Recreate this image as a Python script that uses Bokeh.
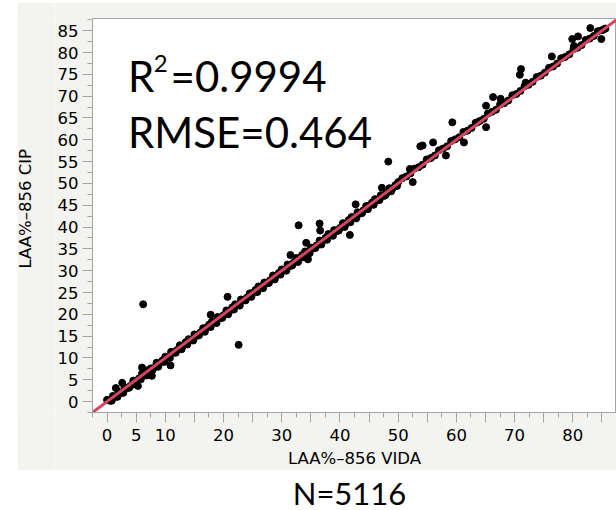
from bokeh.plotting import figure
from bokeh.models import Range1d, FixedTicker, Label, Spacer
from bokeh.layouts import column, row
from bokeh.embed import file_html
from bokeh.resources import INLINE

# ---------------- data ----------------
x_ticks = [0, 5, 10, 15, 20, 25, 30, 35, 40, 45, 50, 55, 60, 65, 70, 75, 80, 85]
x_tick_labels = {0: "0", 5: "5", 10: "10", 15: "", 20: "20", 25: "", 30: "30", 35: "",
                 40: "40", 45: "", 50: "50", 55: "", 60: "60", 65: "", 70: "70",
                 75: "", 80: "80", 85: ""}
y_ticks = [0, 5, 10, 15, 20, 25, 30, 35, 40, 45, 50, 55, 60, 65, 70, 75, 80, 85]
minor_ticks = [-2.5, 2.5, 7.5, 12.5, 17.5, 22.5, 27.5, 32.5, 37.5, 42.5, 47.5, 52.5,
               57.5, 62.5, 67.5, 72.5, 77.5, 82.5, 87.5]

# dense band of points along the diagonal (VIDA, CIP)
band_a_x = [0.0, 0.5, 1.0, 1.5, 2.0, 2.5, 3.0, 3.5, 4.0, 4.5, 5.0, 5.5, 6.0, 6.5, 7.0, 7.5,
            8.0, 8.5, 9.0, 9.5, 10.0, 10.5, 11.0, 11.5, 12.0, 12.5, 13.0, 13.5, 14.0, 14.5,
            15.0, 15.5, 16.0, 16.5, 17.0, 17.5, 18.0, 18.5, 19.0, 19.5, 20.0, 20.5, 21.0,
            21.5, 22.0, 22.5, 23.0, 23.5, 24.0, 24.5, 25.0, 25.5, 26.0, 26.5, 27.0, 27.5,
            28.0, 28.5, 29.0, 29.5, 30.0, 30.5, 31.0, 31.5, 32.0, 32.5, 33.0, 33.5, 34.0,
            34.5, 35.0, 35.5, 36.0, 36.5, 37.0, 37.5, 38.0, 38.5, 39.0, 39.5, 40.0, 40.5,
            41.0, 41.5, 42.0, 42.5, 43.0, 43.5, 44.0, 44.5, 45.0, 45.5, 46.0, 46.5, 47.0,
            47.5, 48.0, 48.5, 49.0, 49.5, 50.0]
band_a_y = [0.4, 0.2, 1.3, 1.1, 2.2, 2.0, 3.3, 3.1, 3.6, 4.8, 4.7, 5.3, 6.4, 6.1, 7.2, 7.6,
            7.7, 8.9, 8.8, 9.4, 10.3, 10.1, 11.4, 11.2, 11.8, 12.9, 12.7, 13.6, 14.3, 14.2,
            15.4, 15.1, 15.8, 16.8, 16.9, 17.6, 18.3, 18.2, 19.4, 19.1, 19.8, 20.9, 20.7,
            21.6, 22.3, 22.1, 23.4, 23.2, 23.8, 24.8, 24.9, 25.6, 26.4, 26.2, 27.3, 27.1,
            27.8, 28.9, 28.8, 29.5, 30.3, 30.2, 31.4, 31.1, 31.8, 32.9, 32.7, 33.6, 34.4,
            34.1, 35.3, 35.2, 35.8, 36.9, 36.8, 37.5, 38.4, 38.2, 39.3, 39.1, 39.8, 40.9,
            40.7, 41.6, 42.3, 42.2, 43.4, 43.1, 43.8, 44.8, 44.9, 45.6, 46.4, 46.2, 47.3,
            47.1, 47.8, 48.9, 48.8, 49.6, 50.3]

band_b_x = [0.8, 1.8, 2.8, 3.8, 4.8, 5.8, 6.8, 7.8, 8.8, 9.8, 10.8, 11.8, 12.8, 13.8, 14.8,
            15.8, 16.8, 17.8, 18.8, 19.8, 20.8, 21.8, 22.8, 23.8, 24.8, 25.8, 26.8, 27.8,
            28.8, 29.8, 30.8, 31.8, 32.8, 33.8, 34.8, 35.8, 36.8, 37.8, 38.8, 39.8, 40.8,
            41.8, 42.8, 43.8, 44.8, 45.8, 46.8, 47.8, 48.8, 49.8]
band_b_y = [0.2, 1.1, 2.0, 3.2, 4.0, 5.1, 6.0, 7.2, 8.0, 9.1, 10.0, 11.2, 12.0, 13.1, 14.0,
            15.2, 16.0, 17.1, 18.0, 19.2, 20.0, 21.1, 22.0, 23.2, 24.0, 25.1, 26.0, 27.2,
            28.0, 29.1, 30.0, 31.2, 32.0, 33.1, 34.0, 35.2, 36.0, 37.1, 38.0, 39.2, 40.0,
            41.1, 42.0, 43.2, 44.1, 45.1, 46.2, 47.3, 48.2, 49.4]

band_c_x = [50.7, 51.4, 52.1, 52.8, 53.5, 54.2, 54.9, 55.6, 56.3, 57.0, 57.7, 58.4, 59.1,
            59.8, 60.5, 61.2, 61.9, 62.6, 63.3, 64.0, 64.7, 65.4, 66.1, 66.8, 67.5, 68.2,
            68.9, 69.6, 70.3, 71.0, 71.7, 72.4, 73.1, 73.8, 74.5, 75.2, 75.9, 76.6, 77.3,
            78.0, 78.7, 79.4, 80.1, 80.8, 81.5, 82.2, 82.9, 83.6, 84.3, 85.0, 85.6]
band_c_y = [51.2, 51.6, 52.3, 53.4, 53.7, 54.3, 55.5, 55.8, 56.4, 57.6, 58.0, 58.5, 59.7,
            60.1, 60.6, 61.8, 62.1, 62.7, 63.9, 64.3, 64.8, 66.0, 66.4, 66.9, 68.1, 68.4,
            69.0, 70.2, 70.5, 71.2, 72.3, 72.6, 73.3, 74.4, 74.7, 75.4, 76.5, 76.8, 77.5,
            78.7, 79.0, 79.6, 80.8, 81.1, 81.7, 82.9, 83.2, 83.8, 84.9, 85.1, 85.5]

# scattered points off the band
out_x = [6.2, 22.6, 10.9, 7.7, 5.3, 1.5, 2.6, 6.0, 17.8, 20.7, 31.5, 32.9, 36.5, 36.6,
         41.7, 42.7, 34.5, 34.2, 47.2, 48.3, 53.8, 56.0, 59.3, 52.0, 52.5, 61.3, 58.2,
         71.1, 70.9, 76.4, 83.0, 80.9, 79.9, 84.9, 85.3, 66.3, 67.6, 65.1, 65.1, 63.6,
         71.9, 54.2, 80.2]
out_y = [22.3, 13.0, 8.3, 5.9, 3.6, 3.1, 4.3, 7.8, 19.9, 24.0, 33.6, 40.4, 40.8, 39.2,
         38.2, 45.2, 32.6, 36.4, 49.0, 55.0, 58.5, 59.4, 64.0, 53.3, 50.3, 59.4, 56.4,
         76.2, 74.9, 79.1, 85.6, 83.7, 83.1, 83.1, 85.3, 69.8, 69.4, 67.8, 62.9, 64.0,
         73.1, 58.7, 81.5]

fit_x = [-2.5, 90.0]
fit_y = [-2.5, 90.0]

x_title = "LAA%\u2013856 VIDA"
y_title = "LAA%\u2013856 CIP"
r2_text = "=0.9994"
rmse_text = "RMSE=0.464"
n_text = "N=5116"

# ---------------- styles ----------------
PANEL = "#f3f3ef"
AXIS_GRAY = "#a4a4a4"
RED = "#d4455f"
TICK_FONT = "DejaVu Sans"
BIG = "Lato"

p = figure(width=562, height=468, output_backend="svg", toolbar_location=None,
           x_range=Range1d(-2.5, 87.5), y_range=Range1d(-2.5, 87.8),
           min_border_left=38, min_border_right=0, min_border_top=16, min_border_bottom=57)
p.border_fill_color = PANEL
p.background_fill_color = "white"
p.outline_line_color = AXIS_GRAY
p.outline_line_width = 1
p.xgrid.visible = False
p.ygrid.visible = False

for ax, ticks in ((p.xaxis[0], x_ticks), (p.yaxis[0], y_ticks)):
    ax.ticker = FixedTicker(ticks=ticks, minor_ticks=minor_ticks)
    ax.axis_line_color = AXIS_GRAY
    ax.major_tick_line_color = AXIS_GRAY
    ax.minor_tick_line_color = AXIS_GRAY
    ax.major_tick_in = 0
    ax.major_tick_out = 10
    ax.minor_tick_in = 0
    ax.minor_tick_out = 5
    ax.major_label_text_font = TICK_FONT
    ax.major_label_text_font_size = "16.5px"
    ax.major_label_text_color = "black"
    ax.axis_label_text_font = TICK_FONT
    ax.axis_label_text_font_size = "16.5px"
    ax.axis_label_text_font_style = "normal"
    ax.axis_label_text_color = "black"

p.xaxis.major_label_overrides = x_tick_labels
p.xaxis.major_label_standoff = 6
p.xaxis.axis_label_standoff = 5
p.xaxis.axis_label = x_title
p.yaxis.major_label_standoff = 4

for xs, ys in ((band_b_x, band_b_y), (band_a_x, band_a_y), (band_c_x, band_c_y), (out_x, out_y)):
    p.scatter(xs, ys, size=7, color="black", marker="circle")

p.line(fit_x, fit_y, line_color=RED, line_width=3)

p.add_layout(Label(x=3.6, y=74.66, text="R", text_font=BIG, text_font_size="42px",
                   text_baseline="alphabetic", text_color="black"))
p.add_layout(Label(x=8.0, y=77.4, text="2", text_font=BIG, text_font_size="24px",
                   text_baseline="alphabetic", text_color="black"))
p.add_layout(Label(x=10.9, y=74.66, text=r2_text, text_font=BIG, text_font_size="42px",
                   text_baseline="alphabetic", text_color="black"))
p.add_layout(Label(x=3.6, y=61.85, text=rmse_text, text_font=BIG, text_font_size="42px",
                   text_baseline="alphabetic", text_color="black"))

# narrow strip on the left holding the rotated y-axis title
p_left = figure(width=37, height=468, output_backend="svg", toolbar_location=None,
                x_range=Range1d(0, 37), y_range=Range1d(0, 468),
                x_axis_type=None, y_axis_type=None, min_border=0)
p_left.outline_line_color = None
p_left.xgrid.visible = False
p_left.ygrid.visible = False
p_left.border_fill_color = PANEL
p_left.background_fill_color = PANEL
p_left.add_layout(Label(x=8, y=242, text=y_title, angle=90, angle_units="deg",
                        text_font=TICK_FONT, text_font_size="16.5px", text_align="center",
                        text_baseline="alphabetic", text_color="black"))

# caption strip below the chart
p2 = figure(width=616, height=40, output_backend="svg", toolbar_location=None,
            x_range=Range1d(0, 616), y_range=Range1d(0, 40),
            x_axis_type=None, y_axis_type=None, min_border=0)
p2.outline_line_color = None
p2.xgrid.visible = False
p2.ygrid.visible = False
p2.border_fill_color = "white"
p2.background_fill_color = "white"
p2.add_layout(Label(x=349, y=18, text=n_text, text_font=BIG, text_font_size="31px",
                    text_align="center", text_baseline="alphabetic", text_color="black"))

layout = column(Spacer(width=616, height=2),
                row(Spacer(width=17, height=468), p_left, p, spacing=0),
                p2, spacing=0)

open("out.html", "w").write(file_html(layout, INLINE))
